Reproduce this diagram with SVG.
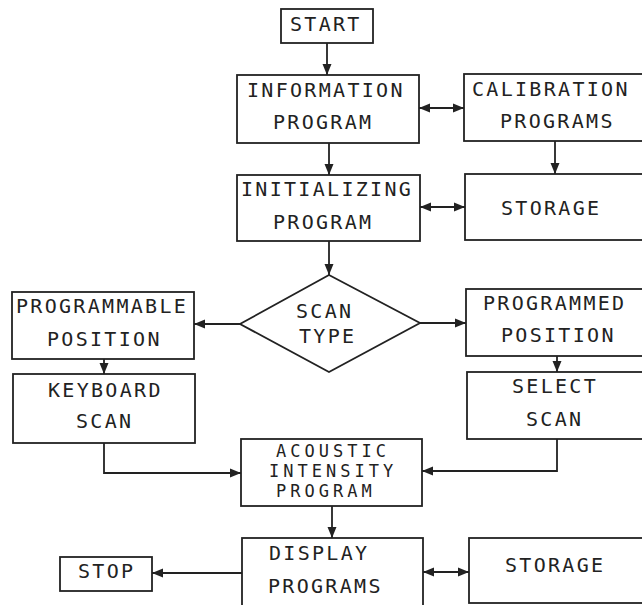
<svg xmlns="http://www.w3.org/2000/svg" width="642" height="605" viewBox="0 0 642 605">
  <style>
    .box { fill: #ffffff; stroke: #222222; stroke-width: 1.8; }
    .wire { fill: none; stroke: #222222; stroke-width: 1.8; }
    .lbl { font-family: "DejaVu Sans Mono", "Liberation Mono", monospace; font-size: 20px; letter-spacing: 2.3px; fill: #222222; }
    .tight { font-size: 17px; letter-spacing: 4px; }
  </style>
  <defs>
    <marker id="arrowEnd" viewBox="0 0 11 10" refX="11" refY="5" markerWidth="11" markerHeight="10" markerUnits="userSpaceOnUse" orient="auto">
      <path d="M0,0.5 L11,5 L0,9.5 Z" fill="#222222"/>
    </marker>
    <marker id="arrowStart" viewBox="0 0 11 10" refX="0" refY="5" markerWidth="11" markerHeight="10" markerUnits="userSpaceOnUse" orient="auto">
      <path d="M11,0.5 L0,5 L11,9.5 Z" fill="#222222"/>
    </marker>
  </defs>

  <rect width="642" height="605" fill="#ffffff"/>

  <g id="connectors">
    <line class="wire" x1="327" y1="43" x2="327" y2="75" marker-end="url(#arrowEnd)"/>
    <line class="wire" x1="419" y1="108" x2="464" y2="108" marker-start="url(#arrowStart)" marker-end="url(#arrowEnd)"/>
    <line class="wire" x1="329" y1="143" x2="329" y2="175" marker-end="url(#arrowEnd)"/>
    <line class="wire" x1="555" y1="141" x2="555" y2="174" marker-end="url(#arrowEnd)"/>
    <line class="wire" x1="420" y1="207" x2="465" y2="207" marker-start="url(#arrowStart)" marker-end="url(#arrowEnd)"/>
    <line class="wire" x1="329" y1="241" x2="329" y2="275" marker-end="url(#arrowEnd)"/>
    <line class="wire" x1="240" y1="324" x2="194" y2="324" marker-end="url(#arrowEnd)"/>
    <line class="wire" x1="420" y1="323" x2="466" y2="323" marker-end="url(#arrowEnd)"/>
    <line class="wire" x1="104" y1="359" x2="104" y2="374" marker-end="url(#arrowEnd)"/>
    <line class="wire" x1="557" y1="356" x2="557" y2="372" marker-end="url(#arrowEnd)"/>
    <polyline class="wire" points="104,443 104,473 241,473" marker-end="url(#arrowEnd)"/>
    <polyline class="wire" points="557,439 557,471 422,471" marker-end="url(#arrowEnd)"/>
    <line class="wire" x1="332" y1="506" x2="332" y2="538" marker-end="url(#arrowEnd)"/>
    <line class="wire" x1="242" y1="573" x2="152" y2="573" marker-end="url(#arrowEnd)"/>
    <line class="wire" x1="423" y1="572" x2="469" y2="572" marker-start="url(#arrowStart)" marker-end="url(#arrowEnd)"/>
  </g>

  <g id="start">
    <rect class="box" x="281" y="9" width="92" height="34"/>
    <text class="lbl" x="290" y="31">START</text>
  </g>

  <g id="information-program">
    <rect class="box" x="237" y="75" width="182" height="68"/>
    <text class="lbl" x="247" y="97">INFORMATION</text>
    <text class="lbl" x="273" y="129">PROGRAM</text>
  </g>

  <g id="calibration-programs">
    <rect class="box" x="464" y="74" width="190" height="67"/>
    <text class="lbl" x="472" y="96">CALIBRATION</text>
    <text class="lbl" x="500" y="128">PROGRAMS</text>
  </g>

  <g id="initializing-program">
    <rect class="box" x="237" y="175" width="183" height="66"/>
    <text class="lbl" x="241" y="196">INITIALIZING</text>
    <text class="lbl" x="273" y="229">PROGRAM</text>
  </g>

  <g id="storage-top">
    <rect class="box" x="465" y="174" width="190" height="66"/>
    <text class="lbl" x="501" y="215">STORAGE</text>
  </g>

  <g id="scan-type">
    <polygon class="box" points="329,275 420,323 329,372 240,324"/>
    <text class="lbl" x="296" y="318">SCAN</text>
    <text class="lbl" x="299" y="343">TYPE</text>
  </g>

  <g id="programmable-position">
    <rect class="box" x="12" y="292" width="182" height="67"/>
    <text class="lbl" x="16" y="313">PROGRAMMABLE</text>
    <text class="lbl" x="47" y="346">POSITION</text>
  </g>

  <g id="keyboard-scan">
    <rect class="box" x="13" y="374" width="182" height="69"/>
    <text class="lbl" x="48" y="397">KEYBOARD</text>
    <text class="lbl" x="76" y="428">SCAN</text>
  </g>

  <g id="programmed-position">
    <rect class="box" x="466" y="289" width="190" height="67"/>
    <text class="lbl" x="483" y="310">PROGRAMMED</text>
    <text class="lbl" x="501" y="342">POSITION</text>
  </g>

  <g id="select-scan">
    <rect class="box" x="467" y="372" width="190" height="67"/>
    <text class="lbl" x="512" y="393">SELECT</text>
    <text class="lbl" x="526" y="426">SCAN</text>
  </g>

  <g id="acoustic-intensity-program">
    <rect class="box" x="241" y="439" width="181" height="67"/>
    <text class="lbl tight" x="276" y="457">ACOUSTIC</text>
    <text class="lbl tight" x="269" y="477">INTENSITY</text>
    <text class="lbl tight" x="276" y="497">PROGRAM</text>
  </g>

  <g id="display-programs">
    <rect class="box" x="242" y="538" width="181" height="75"/>
    <text class="lbl" x="269" y="560">DISPLAY</text>
    <text class="lbl" x="268" y="593">PROGRAMS</text>
  </g>

  <g id="stop">
    <rect class="box" x="60" y="557" width="92" height="34"/>
    <text class="lbl" x="78" y="578">STOP</text>
  </g>

  <g id="storage-bottom">
    <rect class="box" x="469" y="538" width="190" height="65"/>
    <text class="lbl" x="505" y="572">STORAGE</text>
  </g>
</svg>
